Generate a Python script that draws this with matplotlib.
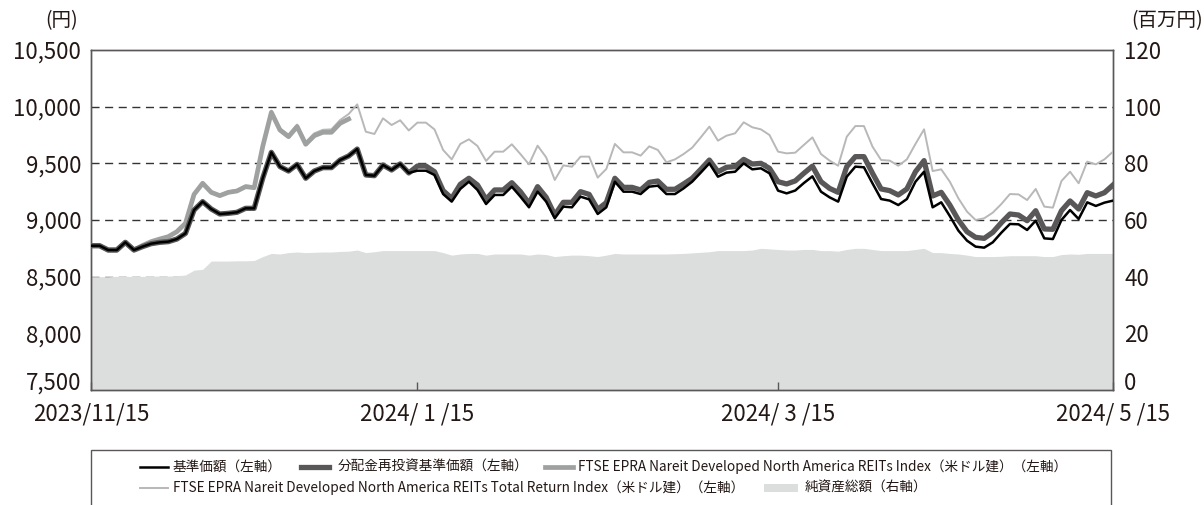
import matplotlib.pyplot as plt
from matplotlib.lines import Line2D
from matplotlib.patches import Rectangle
from matplotlib.transforms import ScaledTranslation
import numpy as np
import pandas as pd

plt.rcParams['font.family'] = ['Noto Sans CJK JP', 'DejaVu Sans']

# Japanese business days, 2023/11/15 - 2024/5/15
jp_holidays = ['2023-11-23', '2024-01-01', '2024-01-02', '2024-01-03', '2024-01-08',
               '2024-02-12', '2024-02-23', '2024-03-20', '2024-04-29', '2024-05-03',
               '2024-05-06']
dates = pd.bdate_range('2023-11-15', '2024-05-15', freq='C', holidays=jp_holidays)

tick_dates = ['2023-11-15', '2024-01-15', '2024-03-15', '2024-05-15']
tick_labels = ['2023/11/15', '2024/ 1 /15', '2024/ 3 /15', '2024/ 5 /15']

# 基準価額 (円)
nav = [8773, 8773, 8735, 8735, 8803, 8735, 8765, 8791, 8803, 8809,
       8832, 8882, 9088, 9162, 9097, 9053, 9059, 9068, 9103, 9103,
       9370, 9597, 9471, 9432, 9491, 9368, 9432, 9462, 9462, 9529,
       9565, 9626, 9397, 9391, 9485, 9441, 9495, 9415, 9435, 9435,
       9397, 9229, 9162, 9274, 9338, 9265, 9141, 9221, 9221, 9294,
       9206, 9112, 9250, 9162, 9015, 9118, 9112, 9206, 9182, 9053,
       9112, 9338, 9250, 9250, 9229, 9294, 9303, 9229, 9229, 9279,
       9338, 9418, 9500, 9382, 9418, 9426, 9500, 9447, 9456, 9412,
       9259, 9235, 9260, 9326, 9385, 9250, 9200, 9162, 9382, 9471,
       9465, 9323, 9185, 9171, 9132, 9185, 9338, 9426, 9112, 9156,
       9035, 8906, 8818, 8765, 8756, 8803, 8888, 8965, 8962, 8912,
       8994, 8838, 8832, 9000, 9088, 9009, 9156, 9124, 9153, 9171]

# 分配金再投資基準価額 (円) - same as nav until the first distribution
reinvested = nav[:38] + [
    9476, 9476,
    9426, 9259, 9191, 9315, 9368, 9309, 9182, 9265, 9265, 9329,
    9250, 9147, 9294, 9200, 9044, 9156, 9156, 9250, 9226, 9094,
    9153, 9368, 9288, 9288, 9265, 9332, 9344, 9271, 9271, 9318,
    9368, 9447, 9529, 9426, 9465, 9471, 9535, 9494, 9500, 9456,
    9338, 9318, 9345, 9412, 9475, 9338, 9279, 9244, 9471, 9559,
    9559, 9412, 9274, 9259, 9221, 9274, 9426, 9524, 9212, 9244,
    9132, 9000, 8897, 8847, 8838, 8891, 8976, 9053, 9044, 8994,
    9082, 8921, 8918, 9082, 9168, 9097, 9241, 9212, 9241, 9309]

# FTSE EPRA Nareit Developed North America REITs Index (ends 2023/12/28)
ftse_price = [8773, 8773, 8735, 8735, 8803, 8735, 8775, 8809, 8832, 8853,
              8897, 8971, 9226, 9324, 9244, 9215, 9244, 9256, 9294, 9285,
              9650, 9950, 9794, 9735, 9824, 9668, 9744, 9774, 9774, 9853,
              9891]

# FTSE EPRA Nareit Developed North America REITs Total Return Index
ftse_tr = [8773, 8773, 8735, 8735, 8803, 8735, 8778, 8812, 8836, 8858,
           8903, 8978, 9233, 9332, 9252, 9224, 9253, 9266, 9305, 9297,
           9663, 9965, 9810, 9752, 9842, 9687, 9765, 9796, 9800, 9882,
           9935, 10020, 9779, 9759, 9897, 9838, 9880, 9790, 9859, 9859,
           9799, 9618, 9535, 9671, 9712, 9653, 9521, 9603, 9603, 9668,
           9582, 9491, 9656, 9553, 9353, 9482, 9470, 9559, 9559, 9374,
           9450, 9671, 9597, 9597, 9568, 9650, 9618, 9509, 9535, 9582,
           9638, 9729, 9824, 9700, 9744, 9765, 9862, 9818, 9800, 9750,
           9603, 9588, 9594, 9662, 9729, 9582, 9524, 9479, 9735, 9829,
           9829, 9647, 9529, 9524, 9479, 9535, 9671, 9800, 9432, 9447,
           9338, 9191, 9074, 9000, 9015, 9065, 9141, 9229, 9226, 9176,
           9274, 9118, 9109, 9344, 9426, 9324, 9515, 9491, 9535, 9603]

# 純資産総額 (百万円)
net_assets = [40.0, 40.0, 40.0, 40.1, 40.1, 40.1, 40.1, 40.2, 40.2, 40.2,
              40.3, 40.6, 42.3, 42.6, 45.5, 45.5, 45.5, 45.6, 45.6, 45.7,
              47.1, 48.2, 48.0, 48.5, 48.7, 48.5, 48.6, 48.7, 48.7, 48.9,
              49.0, 49.4, 48.5, 48.8, 49.2, 49.2, 49.2, 49.2, 49.2, 49.2,
              49.2, 48.5, 47.6, 48.0, 48.2, 48.2, 47.6, 48.0, 48.0, 48.0,
              48.0, 47.6, 48.0, 47.8, 47.1, 47.4, 47.6, 47.6, 47.4, 47.1,
              47.6, 48.2, 48.0, 48.0, 48.0, 48.0, 48.0, 48.0, 48.1, 48.2,
              48.4, 48.6, 48.8, 49.2, 49.2, 49.2, 49.2, 49.4, 50.0, 49.8,
              49.6, 49.4, 49.4, 49.6, 49.6, 49.2, 49.2, 49.0, 49.6, 50.0,
              50.0, 49.6, 49.2, 49.2, 49.2, 49.2, 49.6, 50.0, 48.5, 48.5,
              48.2, 48.0, 47.6, 47.1, 47.1, 47.1, 47.2, 47.4, 47.4, 47.4,
              47.4, 47.1, 47.1, 47.8, 48.0, 47.9, 48.2, 48.2, 48.2, 48.2]

legend_labels = ['基準価額（左軸）', '分配金再投資基準価額（左軸）',
                 'FTSE EPRA Nareit Developed North America REITs Index（米ドル建）（左軸）',
                 'FTSE EPRA Nareit Developed North America REITs Total Return Index（米ドル建）（左軸）',
                 '純資産総額（右軸）']

c_nav = '#000000'
c_re = '#595757'
c_price = '#9fa0a0'
c_tr = '#b8b8b8'
c_area = '#dcdddd'
c_axis = '#595757'
c_text = '#231815'

x = np.arange(len(dates))
tick_pos = [dates.get_loc(pd.Timestamp(d)) for d in tick_dates]

W, H = 1204, 505
fig = plt.figure(figsize=(W / 100, H / 100), dpi=100)
ax = fig.add_axes([91 / W, 1 - 390 / H, 1022 / W, 340 / H])
ax2 = ax.twinx()
ax.set_zorder(ax2.get_zorder() + 1)
ax.patch.set_visible(False)

# net assets area + grid on right axis (grid sits under the area)
ax2.fill_between(x, 0, net_assets, color=c_area, lw=0, zorder=2)
for v in [40, 60, 80, 100]:
    ax2.axhline(v, color='#333333', lw=1, ls=(0, (5.8, 4.0)), zorder=1)
ax2.set_ylim(0, 120)
ax2.set_yticks(range(0, 121, 20))

# lines on left axis
ax.plot(x, ftse_tr, color=c_tr, lw=1.4, zorder=3)
ax.plot(x[:len(ftse_price)], ftse_price, color=c_price, lw=3.4, zorder=4)
ax.plot(x, reinvested, color=c_re, lw=3.8, zorder=5)
ax.plot(x, nav, color=c_nav, lw=1.8, zorder=6)

ax.set_xlim(x[0], x[-1])
ax.set_ylim(7500, 10500)
ax.set_yticks(range(7500, 10501, 500))
ax.set_yticklabels([f'{v:,}' for v in range(7500, 10501, 500)])
ax.set_xticks(tick_pos)
ax.set_xticklabels(tick_labels)

ax.tick_params(axis='y', length=0, pad=7, labelsize=16, labelcolor=c_text)
ax2.tick_params(axis='y', length=0, pad=8, labelsize=16, labelcolor=c_text)
ax.tick_params(axis='x', direction='in', length=6, width=1, color=c_axis,
               pad=9, labelsize=16, labelcolor=c_text)

# lowest y labels sit just above the bottom spine
lift = ScaledTranslation(0, 9 / 100, fig.dpi_scale_trans)
for a in (ax, ax2):
    lab = a.yaxis.get_major_ticks()[0].label1 if a is ax else a.yaxis.get_major_ticks()[0].label2
    lab.set_transform(lab.get_transform() + lift)

for a in (ax, ax2):
    for s in a.spines.values():
        s.set_color(c_axis)
        s.set_linewidth(1)

fig.text(62 / W, 1 - 21 / H, '(円)', ha='center', va='center', fontsize=14, color=c_text)
fig.text(1203 / W, 1 - 21 / H, '(百万円)', ha='right', va='center', fontsize=14, color=c_text)

# legend drawn by hand in pixel positions
def fx(px):
    return px / W

def fy(py):
    return 1 - py / H

fig.add_artist(Rectangle((fx(91), fy(530)), fx(1111) - fx(91), fy(450) - fy(530),
                         transform=fig.transFigure, fill=False, ec=c_axis, lw=1, clip_on=False))

row1, row2 = 467, 488
items = [
    (140, row1, 'line', c_nav, 1.8, 173, legend_labels[0]),
    (301, row1, 'line', c_re, 3.8, 338, legend_labels[1]),
    (545, row1, 'line', c_price, 3.4, 578, legend_labels[2]),
    (140, row2, 'line', c_tr, 1.4, 173, legend_labels[3]),
    (764, row2, 'box', c_area, 0, 805, legend_labels[4]),
]
for x0, yy, kind, col, lw, tx, lab in items:
    if kind == 'line':
        fig.add_artist(Line2D([fx(x0), fx(x0 + 28)], [fy(yy), fy(yy)], color=col, lw=lw,
                              transform=fig.transFigure))
    else:
        fig.add_artist(Rectangle((fx(x0), fy(yy + 4)), fx(x0 + 34) - fx(x0), fy(yy - 4) - fy(yy + 4),
                                 transform=fig.transFigure, color=col, lw=0))
    fig.text(fx(tx), fy(yy), lab, ha='left', va='center', fontsize=9.8, color=c_text)

fig.savefig('out.png', dpi=100)
